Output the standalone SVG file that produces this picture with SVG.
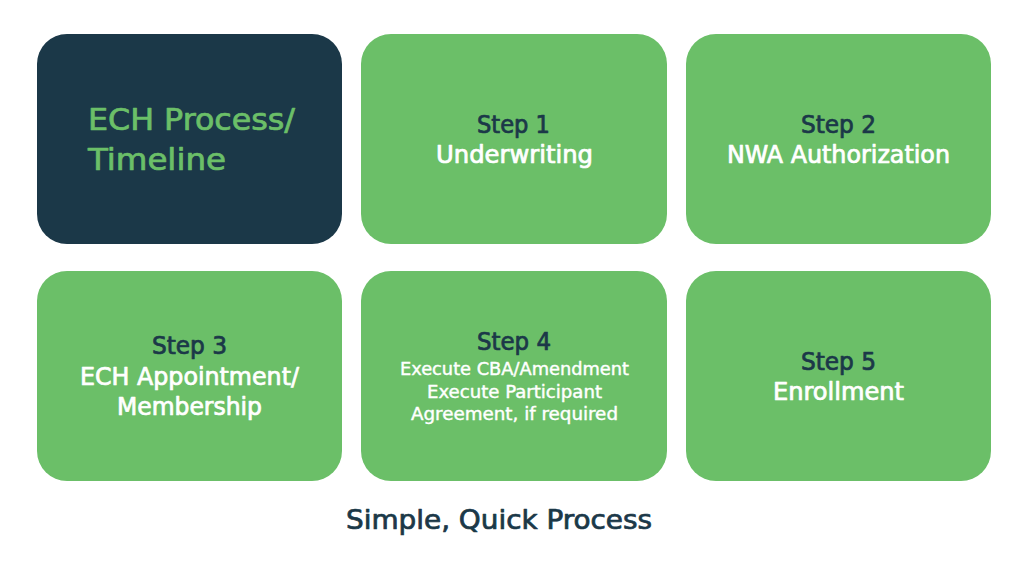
<svg xmlns="http://www.w3.org/2000/svg" width="1024" height="576" viewBox="0 0 1024 576">
<style>
.box{fill:#6bbf68}
.dark{fill:#1b3848}
text{font-family:"DejaVu Sans Condensed","DejaVu Sans",sans-serif;text-anchor:middle;stroke-width:0.7px;stroke-linejoin:round}
.h{fill:#1b3848;stroke:#1b3848;font-size:24px}
.w{fill:#ffffff;stroke:#ffffff;font-size:24px}
.s{fill:#ffffff;stroke:#ffffff;stroke-width:0.4px;font-size:18px}
.t{fill:#6bbf68;stroke:#6bbf68;font-size:31px;text-anchor:start}
.f{fill:#1b3848;stroke:#1b3848;font-size:27px}
</style>
<rect width="1024" height="576" fill="#ffffff"/>
<g id="title">
<rect class="dark" x="37" y="34" width="305" height="210" rx="30"/>
<text class="t" x="88" y="130" textLength="207" lengthAdjust="spacingAndGlyphs">ECH Process/</text>
<text class="t" x="88" y="170" textLength="138" lengthAdjust="spacingAndGlyphs">Timeline</text>
</g>
<g id="step1">
<rect class="box" x="361" y="34" width="306" height="210" rx="30"/>
<text class="h" x="513.5" y="133" textLength="73" lengthAdjust="spacingAndGlyphs">Step 1</text>
<text class="w" x="514.5" y="163" textLength="157" lengthAdjust="spacingAndGlyphs">Underwriting</text>
</g>
<g id="step2">
<rect class="box" x="686" y="34" width="305" height="210" rx="30"/>
<text class="h" x="838.5" y="133" textLength="75" lengthAdjust="spacingAndGlyphs">Step 2</text>
<text class="w" x="838.5" y="163" textLength="223" lengthAdjust="spacingAndGlyphs">NWA Authorization</text>
</g>
<g id="step3">
<rect class="box" x="37" y="271" width="305" height="210" rx="30"/>
<text class="h" x="189.5" y="354" textLength="75" lengthAdjust="spacingAndGlyphs">Step 3</text>
<text class="w" x="189.5" y="385" textLength="219" lengthAdjust="spacingAndGlyphs">ECH Appointment/</text>
<text class="w" x="189.5" y="415" textLength="145" lengthAdjust="spacingAndGlyphs">Membership</text>
</g>
<g id="step4">
<rect class="box" x="361" y="271" width="306" height="210" rx="30"/>
<text class="h" x="514" y="350" textLength="74" lengthAdjust="spacingAndGlyphs">Step 4</text>
<text class="s" x="514.5" y="375" textLength="229" lengthAdjust="spacingAndGlyphs">Execute CBA/Amendment</text>
<text class="s" x="514.5" y="398" textLength="175" lengthAdjust="spacingAndGlyphs">Execute Participant</text>
<text class="s" x="514.5" y="420" textLength="207" lengthAdjust="spacingAndGlyphs">Agreement, if required</text>
</g>
<g id="step5">
<rect class="box" x="686" y="271" width="305" height="210" rx="30"/>
<text class="h" x="838.5" y="370" textLength="75" lengthAdjust="spacingAndGlyphs">Step 5</text>
<text class="w" x="838.5" y="400" textLength="131" lengthAdjust="spacingAndGlyphs">Enrollment</text>
</g>
<g id="connectors"></g>
<text class="f" x="499" y="529" textLength="306" lengthAdjust="spacingAndGlyphs">Simple, Quick Process</text>
</svg>
